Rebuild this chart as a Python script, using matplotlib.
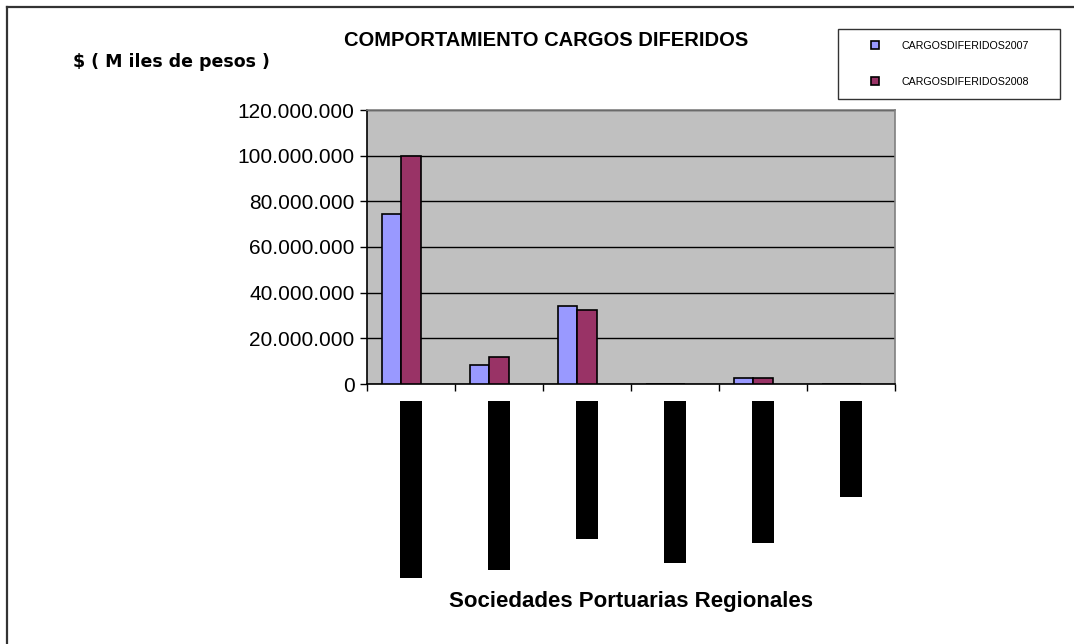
import matplotlib
matplotlib.use("Agg")
import matplotlib.pyplot as plt
from matplotlib.lines import Line2D
from matplotlib.ticker import FuncFormatter
import numpy as np

# ---- data ----
categories = ["", "", "", "", "", ""]  # category labels are redacted (black boxes)
series_names = ["CARGOSDIFERIDOS2007", "CARGOSDIFERIDOS2008"]
values_2007 = [74_300_000, 8_500_000, 34_200_000, 0, 2_500_000, 0]
values_2008 = [100_000_000, 12_000_000, 32_600_000, 0, 2_500_000, 0]
label_lengths = [177, 169, 138, 162, 142, 96]   # length of redacted label blocks (px)
yticks = [0, 20_000_000, 40_000_000, 60_000_000, 80_000_000, 100_000_000, 120_000_000]

title = "COMPORTAMIENTO CARGOS DIFERIDOS"
ylabel = "$ ( M iles de pesos )"
xlabel = "Sociedades Portuarias Regionales"

col07 = "#9999FF"
col08 = "#993366"

plt.rcParams['font.family'] = ['Liberation Sans', 'DejaVu Sans']

W, H = 1074, 644
fig = plt.figure(figsize=(W / 100, H / 100), dpi=100)

def fx(px):
    return px / W

def fy(py):
    return 1 - py / H

# main axes
L, R, T, B = 367, 895, 110, 384
ax = fig.add_axes([fx(L), fy(B), fx(R - L), (B - T) / H])
ax.set_facecolor("#C0C0C0")
n = len(values_2007)
x = np.arange(n)
bw = 0.22
ax.bar(x - 0.22 + 0.5, values_2007, bw, color=col07, edgecolor="black", linewidth=1.2, zorder=3)
ax.bar(x + 0.0 + 0.5, values_2008, bw, color=col08, edgecolor="black", linewidth=1.2, zorder=3)
ax.set_xlim(0, n)
ax.set_ylim(0, 120_000_000)
ax.set_yticks(yticks)
ax.yaxis.set_major_formatter(FuncFormatter(lambda v, p: f"{int(v):,}".replace(",", ".")))
ax.set_xticks(np.arange(n + 1))
ax.set_xticklabels([])
ax.grid(axis="y", color="black", linewidth=1, zorder=1)
ax.tick_params(axis="y", labelsize=15, length=5, width=1, pad=4, direction="out")
ax.tick_params(axis="x", length=5, width=1, direction="out")
for s in ["left", "bottom"]:
    ax.spines[s].set_color("black")
    ax.spines[s].set_linewidth(1.2)
for s in ["top", "right"]:
    ax.spines[s].set_color("#808080")
    ax.spines[s].set_linewidth(1.2)

# redacted category label blocks
LT, LB = 401, 578
axl = fig.add_axes([fx(L), fy(LB), fx(R - L), (LB - LT) / H])
axl.bar(x + 0.5, label_lengths, 0.25, color="black", linewidth=0)
axl.set_xlim(0, n)
axl.set_ylim(max(label_lengths), 0)
axl.axis("off")

# texts
fig.text(fx(546), fy(40), title, ha="center", va="center", fontsize=14.5, fontweight="bold")
fig.text(fx(73), fy(62), ylabel, ha="left", va="center", fontsize=12.5, fontweight="bold",
         family=["DejaVu Sans"])
fig.text(fx(631), fy(602), xlabel, ha="center", va="center", fontsize=16, fontweight="bold")

# legend
handles = [Line2D([], [], marker="s", linestyle="none", markersize=6, markerfacecolor=c,
                  markeredgecolor="black", markeredgewidth=1.2) for c in (col07, col08)]
leg = fig.legend(handles, series_names, loc="upper left",
                 bbox_to_anchor=(fx(838), fy(29), fx(1060 - 838), 0.0001), mode="expand",
                 borderaxespad=0, prop={"size": 7.7}, frameon=True, fancybox=False,
                 borderpad=1.1, labelspacing=2.45, handlelength=4.7, handletextpad=0.1)
leg.get_frame().set_edgecolor("black")
leg.get_frame().set_linewidth(1.0)

# outer frame (only left & top visible)
fig.add_artist(Line2D([fx(7), 1], [fy(7), fy(7)], color="#333333", linewidth=1.6, transform=fig.transFigure))
fig.add_artist(Line2D([fx(7), fx(7)], [fy(7), 0], color="#333333", linewidth=1.6, transform=fig.transFigure))

fig.savefig("out.png", dpi=100)
